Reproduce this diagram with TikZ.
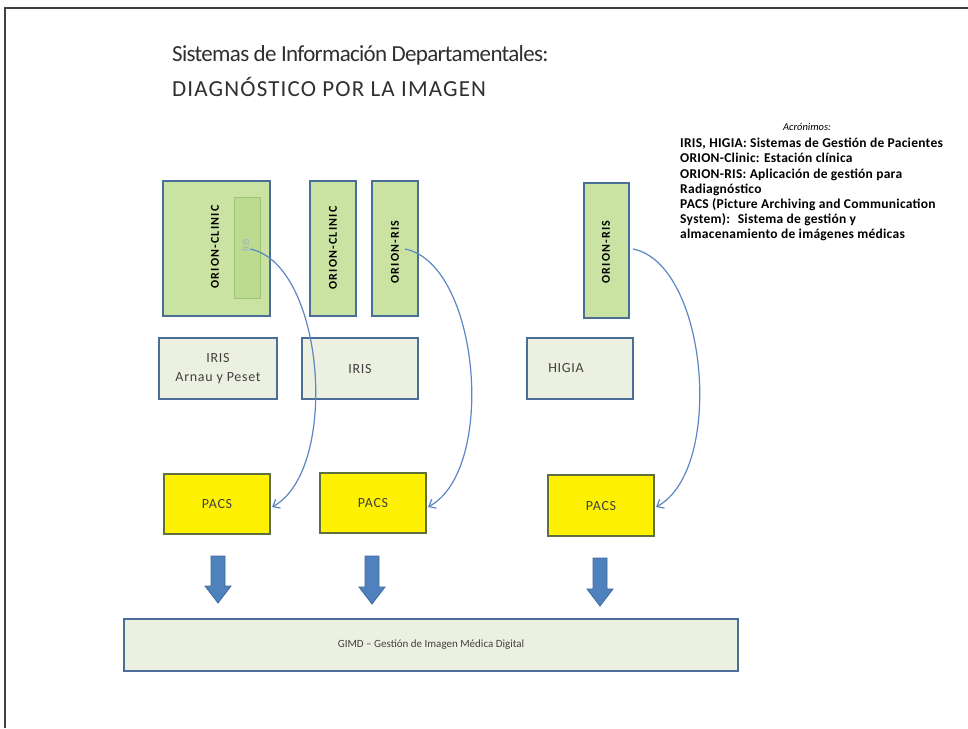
\documentclass[tikz,border=0pt]{standalone}
\usepackage{fontspec}
\setmainfont{Carlito}
\usetikzlibrary{arrows.meta}
\definecolor{boxedge}{HTML}{4A6E96}
\definecolor{greenfill}{HTML}{CAE3A3}
\definecolor{innerfill}{HTML}{BDDB8F}
\definecolor{inneredge}{HTML}{9CC472}
\definecolor{palefill}{HTML}{ECF0E0}
\definecolor{pacsedge}{HTML}{5E7040}
\definecolor{curveblue}{HTML}{5B87C5}
\definecolor{arrowfill}{HTML}{4F81BD}
\definecolor{arrowedge}{HTML}{3E6A9E}
\definecolor{titlegray}{HTML}{303030}
\definecolor{labelgray}{HTML}{404040}
\begin{document}
\begin{tikzpicture}[x=1pt,y=-1pt,
  greenbox/.style={draw=boxedge, line width=1.3pt, fill=greenfill, inner sep=0pt},
  innerbox/.style={draw=inneredge, line width=1pt, fill=innerfill, inner sep=0pt},
  palebox/.style={draw=boxedge, line width=1.3pt, fill=palefill, inner sep=0pt, align=center, text=labelgray, font=\fontsize{14}{19}\selectfont\addfontfeature{LetterSpace=5}},
  pacsbox/.style={draw=pacsedge, line width=1.3pt, fill=yellow, inner sep=0pt, text=labelgray, font=\fontsize{14}{16}\selectfont\addfontfeature{LetterSpace=5}},
  vtext/.style={rotate=90, inner sep=0pt, font=\fontsize{12}{12}\selectfont\bfseries\addfontfeature{LetterSpace=10}},
  link/.style={draw=curveblue, line width=1.2pt, -{Straight Barb[length=6pt,width=10pt]}},
  blockarrow/.style={fill=arrowfill, draw=arrowedge, line width=0.8pt},
  frameline/.style={draw=black!75, line width=1.5pt}
]
\useasboundingbox (0,0) rectangle (968,728);
\fill[white] (0,0) rectangle (968,728);
\draw[frameline] (5,728) -- (5,8) -- (968,8);

% title
\node[anchor=west, inner sep=0pt, text=titlegray, font=\fontsize{23}{26}\selectfont\addfontfeature{LetterSpace=-3}] (t1) at (172,55) {Sistemas de Información Departamentales:};
\node[anchor=west, inner sep=0pt, text=titlegray, font=\fontsize{23}{26}\selectfont\addfontfeature{LetterSpace=5}] (t2) at (172,87) {DIAGNÓSTICO POR LA IMAGEN};

% acronyms
\node[inner sep=0pt, font=\fontsize{10.5}{12}\selectfont\itshape] (acrh) at (807,127) {Acrónimos:};
\node[anchor=north west, inner sep=0pt, align=left, font=\fontsize{13.5}{15.2}\selectfont\bfseries\addfontfeature{LetterSpace=2}] (acr) at (680,138) {IRIS, HIGIA: Sistemas de Gestión de Pacientes\\ORION-Clinic: Estación clínica\\ORION-RIS: Aplicación de gestión para\\Radiagnóstico\\PACS (Picture Archiving and Communication\\System): \ Sistema de gestión y\\almacenamiento de imágenes médicas};

% green application boxes
\node[greenbox, minimum width=107, minimum height=135] (oc1) at (216.5,248.5) {};
\node[innerbox, minimum width=26, minimum height=101] (ris1) at (247,247.5) {};
\node[vtext] (oc1t) at (215,247) {ORION-CLINIC};
\node[rotate=90, inner sep=0pt, text=boxedge!55, font=\fontsize{10}{10}\selectfont] (ris1t) at (246,245) {RIS};

\node[greenbox, minimum width=46, minimum height=135] (oc2) at (333,248.5) {};
\node[vtext] (oc2t) at (333,248) {ORION-CLINIC};

\node[greenbox, minimum width=46, minimum height=135] (or1) at (395,248.5) {};
\node[vtext] (or1t) at (395,252) {ORION-RIS};

\node[greenbox, minimum width=45, minimum height=135] (or2) at (606.5,250.5) {};
\node[vtext] (or2t) at (606,252) {ORION-RIS};

% patient management boxes
\node[palebox, minimum width=118, minimum height=61] (iris1) at (218,368.5) {IRIS\\Arnau y Peset};
\node[palebox, minimum width=116, minimum height=61] (iris2) at (360,368.5) {IRIS};
\node[palebox, minimum width=106, minimum height=61] (higia) at (580,368.5) {};
\node[inner sep=0pt, text=labelgray, font=\fontsize{14}{16}\selectfont\addfontfeature{LetterSpace=5}] (higiat) at (566,368) {HIGIA};

% PACS boxes
\node[pacsbox, minimum width=106, minimum height=60] (p1) at (217,504) {PACS};
\node[pacsbox, minimum width=106, minimum height=60] (p2) at (373,503) {PACS};
\node[pacsbox, minimum width=106, minimum height=61] (p3) at (601,505.5) {PACS};

% GIMD
\node[palebox, font=\fontsize{11}{13}\selectfont, minimum width=614, minimum height=52] (gimd) at (431,645) {GIMD -- Gestión de Imagen Médica Digital};

% curved links
\coordinate (s1) at (250,249);
\coordinate (e1) at (272,507);
\coordinate (s2) at (405,249);
\coordinate (e2) at (428,507);
\coordinate (s3) at (633,249);
\coordinate (e3) at (656,507);
\draw[link] (s1) .. controls (325,264) and (340,470) .. (e1);
\draw[link] (s2) .. controls (480,264) and (497,470) .. (e2);
\draw[link] (s3) .. controls (708,264) and (725,470) .. (e3);

% block arrows
\newcommand\blockdown[3]{%
  \filldraw[blockarrow] (#1-7,#2) -- (#1+7,#2) -- (#1+7,#3-17) -- (#1+13,#3-17) -- (#1,#3) -- (#1-13,#3-17) -- (#1-7,#3-17) -- cycle;}
\blockdown{218}{556}{603}
\blockdown{372}{556}{604}
\blockdown{600}{558}{606}
\end{tikzpicture}
\end{document}
